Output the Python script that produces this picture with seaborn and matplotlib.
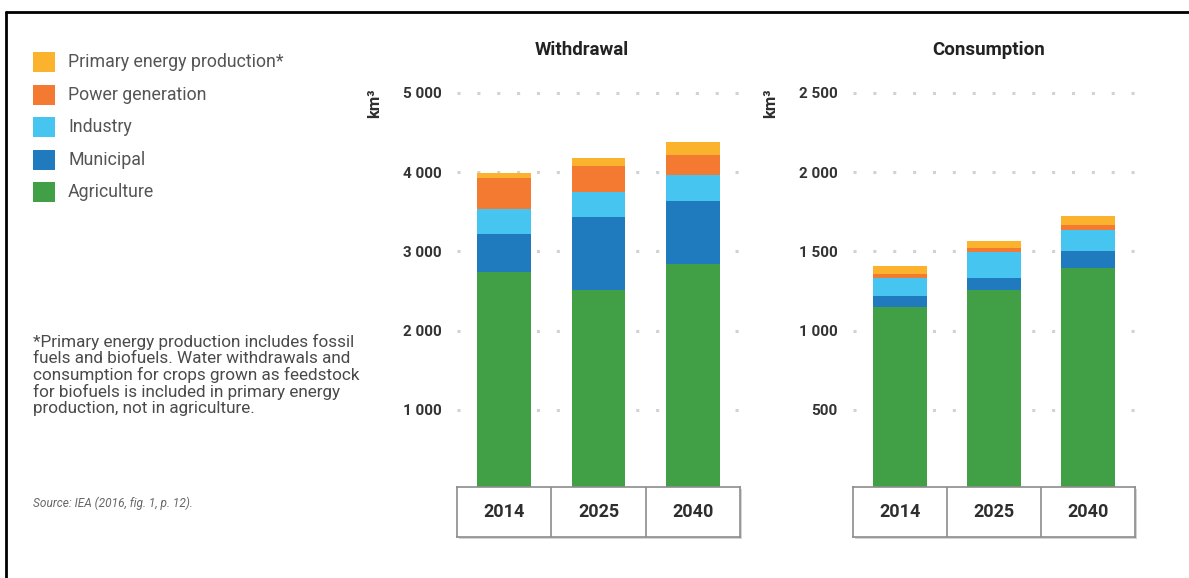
import numpy as np
import matplotlib
matplotlib.use("Agg")
import matplotlib.pyplot as plt
from matplotlib.patches import Rectangle
from matplotlib.lines import Line2D
import seaborn as sns

# ---- data (km³) ----
years = ["2014", "2025", "2040"]
sectors = ["Agriculture", "Municipal", "Industry", "Power generation",
           "Primary energy production*"]
sector_colors = ["#41a046", "#1f7bbd", "#45c5f0", "#f57a31", "#fbb22c"]

withdrawal_agriculture = [2740, 2510, 2840]
withdrawal_municipal = [480, 925, 800]
withdrawal_industry = [315, 315, 320]
withdrawal_power = [390, 330, 260]
withdrawal_primary = [70, 95, 160]

consumption_agriculture = [1150, 1255, 1395]
consumption_municipal = [70, 80, 105]
consumption_industry = [115, 160, 137]
consumption_power = [25, 28, 32]
consumption_primary = [45, 45, 52]

withdrawal_ticks = [1000, 2000, 3000, 4000, 5000]
consumption_ticks = [500, 1000, 1500, 2000, 2500]

footnote_lines = [
    "*Primary energy production includes fossil",
    "fuels and biofuels. Water withdrawals and",
    "consumption for crops grown as feedstock",
    "for biofuels is included in primary energy",
    "production, not in agriculture.",
]
source_text = "Source: IEA (2016, fig. 1, p. 12)."

# ---- styling ----
sns.set_theme(style="white")
plt.rcParams["font.family"] = ["Roboto", "DejaVu Sans"]

W, H = 1189, 578
fig = plt.figure(figsize=(W / 100, H / 100), dpi=100)
fig.patch.set_facecolor("white")


def fx(px):
    return px / W


def fy(py):
    return 1 - py / H


def fmt(v):
    return f"{v:,}".replace(",", " ")


def panel(x0, x1, ymax, ticks, layers, title, title_x, title_size):
    y_top, y_zero = 93, 489
    ax = fig.add_axes([fx(x0), fy(y_zero), fx(x1 - x0), (y_zero - y_top) / H])
    cum = np.cumsum(np.array(layers, dtype=float), axis=0)
    # stacked bars: draw running totals from the top layer down
    for i in reversed(range(len(sectors))):
        sns.barplot(x=years, y=cum[i], order=years, color=sector_colors[i],
                    width=0.57, saturation=1, errorbar=None, linewidth=0,
                    zorder=3, ax=ax)
    ax.set_xlim(-0.5, 2.5)
    ax.set_ylim(0, ymax)
    ax.set_yticks(ticks)
    ax.set_yticklabels([fmt(t) for t in ticks])
    ax.set_xticks([])
    ax.set_xlabel("")
    ax.set_ylabel("")
    for s in ax.spines.values():
        s.set_visible(False)
    ax.set_axisbelow(True)
    ax.grid(axis="y", linestyle=(0, (1, 5.5)), linewidth=2.2, color="#d2d2d2")
    for gl in ax.get_ygridlines():
        gl.set_clip_on(False)
    ax.tick_params(axis="y", length=0, pad=11, labelsize=11, labelcolor="#333333")
    for lbl in ax.get_yticklabels():
        lbl.set_fontweight("bold")

    # year box beneath the bars
    by0, by1 = 487, 537
    shadow = Rectangle((fx(x0 + 2), fy(by1 + 2)), fx(x1 - x0), (by1 - by0) / H,
                       transform=fig.transFigure, facecolor="#d4d4d4",
                       edgecolor="none", zorder=4)
    fig.add_artist(shadow)
    bax = fig.add_axes([fx(x0), fy(by1), fx(x1 - x0), (by1 - by0) / H], zorder=5)
    bax.set_facecolor("white")
    bax.set_xlim(-0.5, 2.5)
    bax.set_ylim(0, 1)
    bax.set_xticks([])
    bax.set_yticks([])
    for s in bax.spines.values():
        s.set_color("#8c8c8c")
        s.set_linewidth(1.2)
    for xv in (0.5, 1.5):
        bax.axvline(xv, color="#8c8c8c", linewidth=1.2)
    for i, yr in enumerate(years):
        bax.text(i, 0.5, yr, ha="center", va="center", fontsize=13,
                 fontweight="bold", color="#2e2e2e")

    fig.text(fx(title_x), fy(50), title, ha="center", va="center",
             fontsize=title_size, fontweight="bold", color="#222222")
    fig.text(fx(x0 - 82), fy(103), "km³", rotation=90, ha="center",
             va="center", fontsize=12, fontweight="bold", color="#2e2e2e")
    return ax


panel(457, 740, 5000, withdrawal_ticks,
      [withdrawal_agriculture, withdrawal_municipal, withdrawal_industry,
       withdrawal_power, withdrawal_primary],
      "Withdrawal", 582, 13.5)
panel(853, 1135, 2500, consumption_ticks,
      [consumption_agriculture, consumption_municipal, consumption_industry,
       consumption_power, consumption_primary],
      "Consumption", 989, 13.5)

# ---- legend (top to bottom) ----
for k, i in enumerate(reversed(range(len(sectors)))):
    cy = 62 + 32.5 * k
    fig.add_artist(Rectangle((fx(33), fy(cy + 10)), fx(22), 20 / H,
                             transform=fig.transFigure,
                             facecolor=sector_colors[i], edgecolor="none"))
    fig.text(fx(68), fy(cy), sectors[i], ha="left", va="center",
             fontsize=12.8, color="#555555")

# ---- footnote and source ----
for k, line in enumerate(footnote_lines):
    fig.text(fx(33), fy(342 + 16.6 * k), line, ha="left", va="center",
             fontsize=12.3, color="#4a4a4a")
fig.text(fx(33), fy(503), source_text, ha="left", va="center",
         fontsize=8.6, style="italic", color="#666666")

# ---- outer frame ----
fig.add_artist(Line2D([fx(6), 1], [fy(12), fy(12)], color="black",
                      linewidth=2, transform=fig.transFigure))
fig.add_artist(Line2D([fx(6), fx(6)], [fy(12), 0], color="black",
                      linewidth=2, transform=fig.transFigure))

fig.savefig("out.png", dpi=100)
